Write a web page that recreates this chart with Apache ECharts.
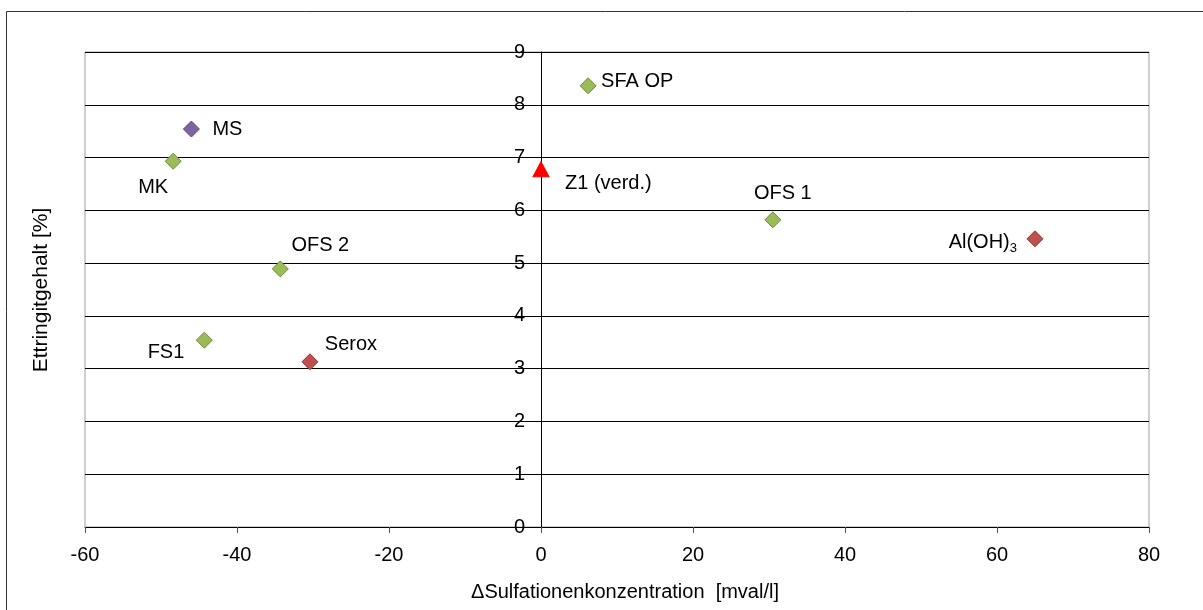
<!DOCTYPE html>
<html>
<head>
<meta charset="utf-8">
<script src="https://cdn.jsdelivr.net/npm/echarts@6/dist/echarts.min.js"></script>
<style>
  html, body { margin: 0; padding: 0; background: #fff; }
  #chart { width: 1203px; height: 610px; }
</style>
</head>
<body>
<div id="chart"></div>
<script>
// Additive samples: change in sulfate ion concentration vs. ettringite content
const names   = ['SFA OP', 'MS', 'MK', 'Z1 (verd.)', 'OFS 1', 'Al(OH){sub|3}', 'OFS 2', 'FS1', 'Serox'];
const sulfate = [6.2, -46.0, -48.4, 0, 30.5, 65.0, -34.3, -44.3, -30.4];
const ettring = [8.36, 7.54, 6.93, 6.78, 5.82, 5.46, 4.89, 3.54, 3.13];
const groups  = ['green', 'purple', 'green', 'ref', 'green', 'red', 'green', 'green', 'red'];
const xTicks  = [-60, -40, -20, 0, 20, 40, 60, 80];
const yTicks  = [0, 1, 2, 3, 4, 5, 6, 7, 8, 9];

// label placement per point: [dx, dy, align]
const labelPlace = [
  [13, -4, 'left'],
  [21, 0, 'left'],
  [-20, 26, 'center'],
  [24, 14, 'left'],
  [10, -26, 'center'],
  [-18, 4, 'right'],
  [40, -23, 'center'],
  [-20, 12, 'right'],
  [41, -17, 'center']
];

const FONT = 'Liberation Sans, Arial, sans-serif';

const styles = {
  green:  { symbol: 'diamond', size: 16, color: '#9BBB59', border: '#71893F' },
  purple: { symbol: 'diamond', size: 16, color: '#8064A2', border: '#5C4776' },
  red:    { symbol: 'diamond', size: 16, color: '#C0504D', border: '#8C3836' },
  ref:    { symbol: 'triangle', size: [16, 15], color: '#FF0000', border: '#FF0000' }
};

const series = Object.keys(styles).map(function (g) {
  const st = styles[g];
  const data = [];
  names.forEach(function (n, i) {
    if (groups[i] !== g) return;
    const p = labelPlace[i];
    data.push({
      value: [sulfate[i], ettring[i]],
      label: { offset: [p[0], p[1]], align: p[2], formatter: n }
    });
  });
  return {
    type: 'scatter',
    symbol: st.symbol,
    symbolSize: st.size,
    itemStyle: { color: st.color, borderColor: st.border, borderWidth: 1, opacity: 1 },
    label: {
      show: true,
      position: 'inside',
      verticalAlign: 'middle',
      color: '#000',
      fontFamily: FONT,
      fontSize: 20,
      rich: {
        sub: { fontSize: 13, verticalAlign: 'bottom', padding: [12, 0, 0, 0], color: '#000', fontFamily: FONT }
      }
    },
    emphasis: { disabled: true },
    data: data,
    z: 5
  };
});

const gridLeft = 85, gridRight = 54;
const plotWidth = 1203 - gridLeft - gridRight;
// y axis sits where x = 0
const yAxisOffset = -plotWidth * (0 - xTicks[0]) / (xTicks[xTicks.length - 1] - xTicks[0]);

const chart = echarts.init(document.getElementById('chart'), null, { renderer: 'canvas' });
chart.setOption({
  animation: false,
  backgroundColor: '#fff',
  textStyle: { fontFamily: FONT },
  grid: {
    left: gridLeft, right: gridRight, top: 52, bottom: 83,
    show: true, borderColor: '#A0A0A0', borderWidth: 1, backgroundColor: 'transparent'
  },
  xAxis: {
    type: 'value',
    min: xTicks[0], max: xTicks[xTicks.length - 1], interval: 20,
    name: 'ΔSulfationenkonzentration  [mval/l]',
    nameLocation: 'middle',
    nameGap: 55,
    nameTextStyle: { fontSize: 20, color: '#000', fontFamily: FONT, padding: [0, 0, 0, 16] },
    axisLine: { show: true, lineStyle: { color: '#000', width: 1 } },
    axisTick: { show: true, length: 6, lineStyle: { color: '#555' } },
    axisLabel: { fontSize: 20, color: '#000', fontFamily: FONT, margin: 18 },
    splitLine: { show: false }
  },
  yAxis: {
    type: 'value',
    min: yTicks[0], max: yTicks[yTicks.length - 1], interval: 1,
    offset: yAxisOffset,
    axisLine: { show: true, onZero: false, lineStyle: { color: '#000', width: 1 } },
    axisTick: { show: true, length: 5, lineStyle: { color: '#000' } },
    axisLabel: { fontSize: 20, color: '#000', fontFamily: FONT, margin: 16 },
    splitLine: { show: true, lineStyle: { color: '#000', width: 1 } }
  },
  graphic: [
    {
      type: 'rect',
      shape: { x: 6.5, y: 11.5, width: 1300, height: 700 },
      style: { fill: 'none', stroke: '#333', lineWidth: 1 },
      silent: true, z: 0
    },
    {
      type: 'text',
      x: 41, y: 290,
      rotation: Math.PI / 2,
      style: {
        text: 'Ettringitgehalt [%]',
        fontSize: 21, fill: '#000',
        fontFamily: FONT,
        align: 'center', verticalAlign: 'middle'
      },
      z: 10
    }
  ],
  series: series
});
</script>
</body>
</html>
